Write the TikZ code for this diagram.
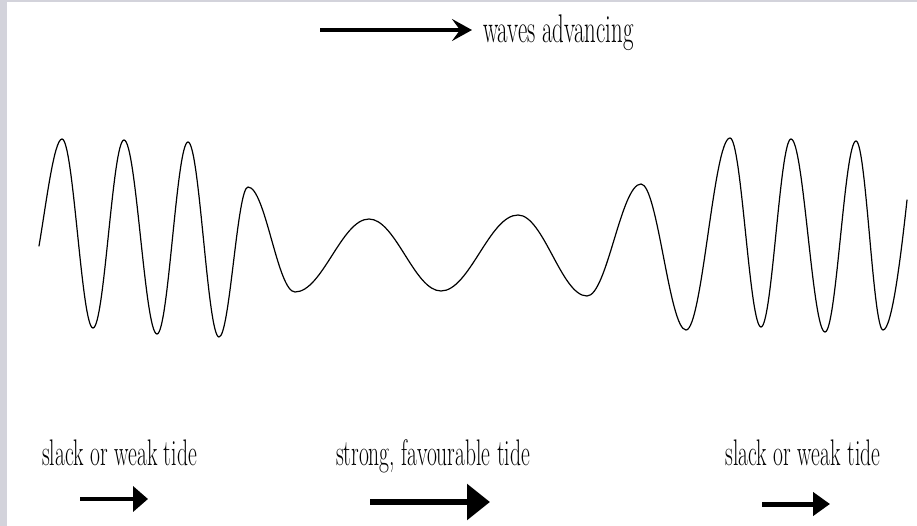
\documentclass[tikz,border=0pt]{standalone}
\usepackage{fontspec}
\usetikzlibrary{arrows.meta}
\definecolor{bordergray}{RGB}{211,211,219}
\tikzset{
  wave/.style={line width=1.2pt, line join=round, line cap=round},
  lbl/.style={inner sep=0pt, outer sep=0pt},
  toparrow/.style={line width=4pt, -{Stealth[length=20pt,width=22pt,inset=8pt]}},
}
\newcommand{\bigtxt}[1]{\scalebox{0.57}[1]{\fontsize{40}{44}\selectfont #1}}
\newcommand{\lowtxt}[1]{\scalebox{0.583}[1]{\fontsize{37}{42}\selectfont #1}}
\begin{document}
\begin{tikzpicture}[x=1pt,y=-1pt]
\useasboundingbox (0,0) rectangle (917,526);
\fill[white] (0,0) rectangle (917,526);
\fill[bordergray] (0,0) rectangle (7,526);
\fill[bordergray] (0,0) rectangle (917,2);

% top arrow and label
\coordinate (tA) at (320,30);
\coordinate (tB) at (472,30);
\draw[toparrow] (tA) -- (tB);
\node[lbl, anchor=base west] (adv) at (483,43) {\bigtxt{waves advancing}};

% wave
\draw[wave] (39,246) .. controls (46,205) and (54,139) .. (62,139)
  foreach \x/\y [remember=\x as \px (initially 62), remember=\y as \py (initially 139)] in
  {93/328,124/140,157/334,188/142,219/337,248/187,295/292,369/219,441/291,518/215,587/296,641/184,686/330,730/138,761/327,791/139,825/332,856/141,883/330}
  { .. controls ({\px+0.37*(\x-\px)},\py) and ({\x-0.37*(\x-\px)},\y) .. (\x,\y) }
  .. controls (892,330) and (901,255) .. (907,200);

% bottom labels
\node[lbl, anchor=base] (l1) at (119.5,465) {\lowtxt{slack or weak tide}};
\node[lbl, anchor=base] (l2) at (433,465) {\lowtxt{strong, favourable tide}};
\node[lbl, anchor=base] (l3) at (803,465) {\lowtxt{slack or weak tide}};

% bottom arrows
\coordinate (a1s) at (80,499);  \coordinate (a1e) at (148,499);
\coordinate (a2s) at (370,502); \coordinate (a2e) at (490,502);
\coordinate (a3s) at (762,504); \coordinate (a3e) at (830,504);
\draw[line width=4.5pt, -{Triangle[length=15pt,width=25pt]}] (a1s) -- (a1e);
\draw[line width=6pt, -{Triangle[length=23pt,width=35pt]}] (a2s) -- (a2e);
\draw[line width=5pt, -{Triangle[length=17pt,width=23pt]}] (a3s) -- (a3e);
\end{tikzpicture}
\end{document}
